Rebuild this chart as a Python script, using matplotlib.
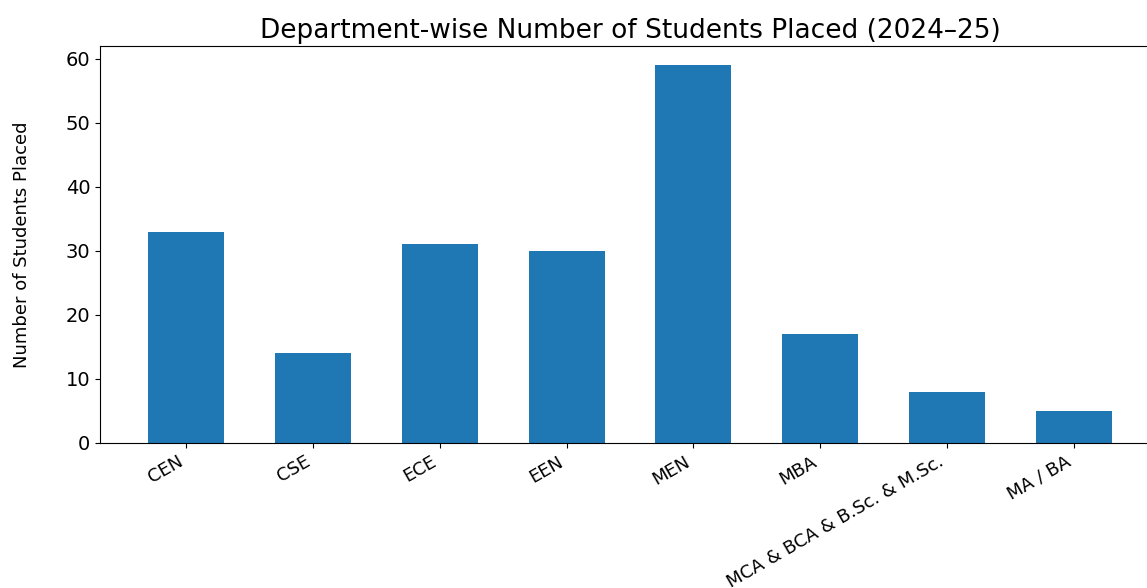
import numpy as np
import matplotlib
matplotlib.use('Agg')
import matplotlib.pyplot as plt

departments = ['CEN', 'CSE', 'ECE', 'EEN', 'MEN', 'MBA',
               'MCA & BCA & B.Sc. & M.Sc.', 'MA / BA']
placed = [33, 14, 31, 30, 59, 17, 8, 5]

fig = plt.figure(figsize=(11.47, 5.88), dpi=100)
ax = fig.add_axes([0.0872, 0.2466, 0.924, 0.675])

x = np.arange(len(departments))
ax.bar(x, placed, width=0.6, color='#1f77b4')

ax.set_xticks(x)
ax.set_xticklabels(departments, rotation=30, ha='right', fontsize=13)
ax.tick_params(axis='y', labelsize=14)
ax.set_ylabel('Number of Students Placed', fontsize=13, labelpad=25)
ax.set_title('Department-wise Number of Students Placed (2024\u201325)', fontsize=19)

fig.savefig('out.png', dpi=100)
